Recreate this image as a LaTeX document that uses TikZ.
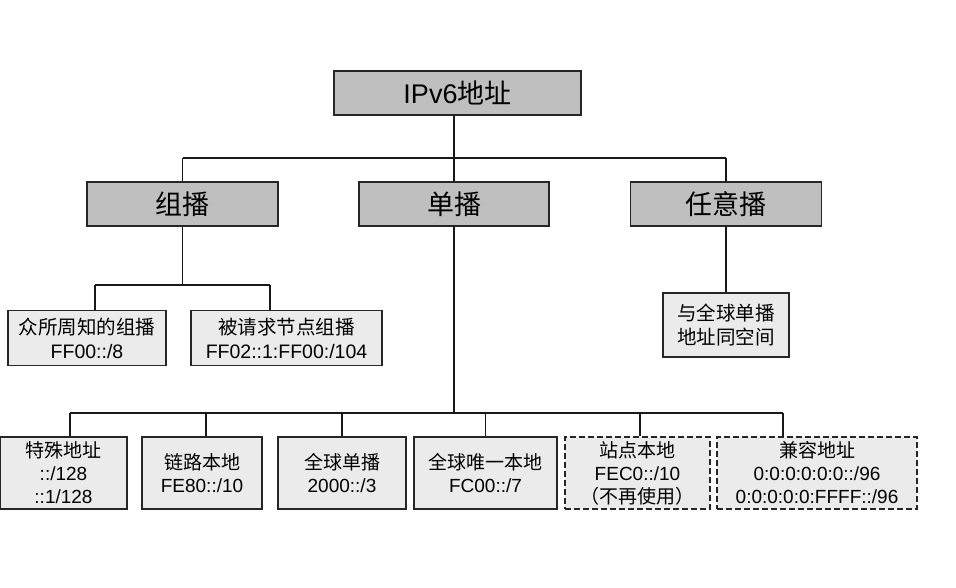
\documentclass[tikz,border=0pt]{standalone}
\usepackage{fontspec}
\setmainfont{Liberation Sans}
\newfontfamily\cjk{Noto Sans CJK SC}
\begin{document}
\begin{tikzpicture}[x=1pt,y=-1pt,
  conn/.style={line width=1.1pt,black!90},
  topbox/.style={draw=black!85,line width=1.2pt,fill=black!25,inner sep=0pt,
    font=\fontsize{27}{30}\selectfont},
  leaf/.style={draw=black!85,line width=1.2pt,fill=black!8,inner sep=0pt,align=center,
    font=\fontsize{19.5}{24}\selectfont},
  lowleaf/.style={leaf,font=\fontsize{19}{23}\selectfont},
  dleaf/.style={lowleaf,dashed,dash pattern=on 6pt off 3pt}]
\useasboundingbox[fill=white] (0,0) rectangle (956,588);
% top
\node[topbox,minimum width=247pt,minimum height=44pt] (ipv6) at (457.5,93) {IPv6{\cjk 地址}};
\node[topbox,minimum width=191pt,minimum height=44pt] (zubo) at (182.5,204) {\cjk 组播};
\node[topbox,minimum width=190pt,minimum height=44pt] (danbo) at (454,204) {\cjk 单播};
\node[topbox,minimum width=191pt,minimum height=44pt] (renyi) at (726,204) {\cjk 任意播};
% multicast leaves
\node[leaf,minimum width=158pt,minimum height=55pt] (m1) at (87,338) {{\cjk 众所周知的组播}\\FF00::/8};
\node[leaf,minimum width=191pt,minimum height=55pt] (m2) at (286.5,338) {{\cjk 被请求节点组播}\\FF02::1:FF00:/104};
% anycast leaf
\node[leaf,minimum width=126pt,minimum height=64pt] (a1) at (726,325) {\cjk 与全球单播\\\cjk 地址同空间};
% unicast leaves
\node[lowleaf,minimum width=127pt,minimum height=72pt] (b1) at (63.5,473) {{\cjk 特殊地址}\\::/128\\::1/128};
\node[lowleaf,minimum width=120pt,minimum height=72pt] (b2) at (202,473) {{\cjk 链路本地}\\FE80::/10};
\node[lowleaf,minimum width=128pt,minimum height=72pt] (b3) at (342,473) {{\cjk 全球单播}\\2000::/3};
\node[lowleaf,minimum width=143pt,minimum height=72pt] (b4) at (485.5,473) {{\cjk 全球唯一本地}\\FC00::/7};
\node[dleaf,minimum width=145pt,minimum height=72pt] (b5) at (637.5,473) {{\cjk 站点本地}\\FEC0::/10\\{\cjk （不再使用）}};
\node[dleaf,minimum width=200pt,minimum height=72pt] (b6) at (817,473) {{\cjk 兼容地址}\\0:0:0:0:0:0::/96\\0:0:0:0:0:FFFF::/96};
% buses
\coordinate (bus1) at (0,158);
\coordinate (bus2) at (0,285);
\coordinate (bus3) at (0,413);
\draw[conn] (ipv6.south -| danbo.north) -- (danbo.north |- bus1);
\draw[conn] (zubo.north |- bus1) -- (renyi.north |- bus1);
\draw[conn] (zubo.north |- bus1) -- (zubo.north);
\draw[conn] (danbo.north |- bus1) -- (danbo.north);
\draw[conn] (renyi.north |- bus1) -- (renyi.north);
% multicast
\draw[conn] (zubo.south) -- (zubo.south |- bus2);
\draw[conn] ([xshift=8pt]m1.north |- bus2) -- ([xshift=-16.5pt]m2.north |- bus2);
\draw[conn] ([xshift=8pt]m1.north |- bus2) -- ([xshift=8pt]m1.north);
\draw[conn] ([xshift=-16.5pt]m2.north |- bus2) -- ([xshift=-16.5pt]m2.north);
% anycast
\draw[conn] (renyi.south) -- (a1.north);
% unicast
\draw[conn] (danbo.south) -- (danbo.south |- bus3);
\draw[conn] ([xshift=6.5pt]b1.north |- bus3) -- ([xshift=-34pt]b6.north |- bus3);
\draw[conn] ([xshift=6.5pt]b1.north |- bus3) -- ([xshift=6.5pt]b1.north);
\draw[conn] ([xshift=4pt]b2.north |- bus3) -- ([xshift=4pt]b2.north);
\draw[conn] (b3.north |- bus3) -- (b3.north);
\draw[conn] (b4.north |- bus3) -- (b4.north);
\draw[conn] ([xshift=2.5pt]b5.north |- bus3) -- ([xshift=2.5pt]b5.north);
\draw[conn] ([xshift=-34pt]b6.north |- bus3) -- ([xshift=-34pt]b6.north);
\end{tikzpicture}
\end{document}
